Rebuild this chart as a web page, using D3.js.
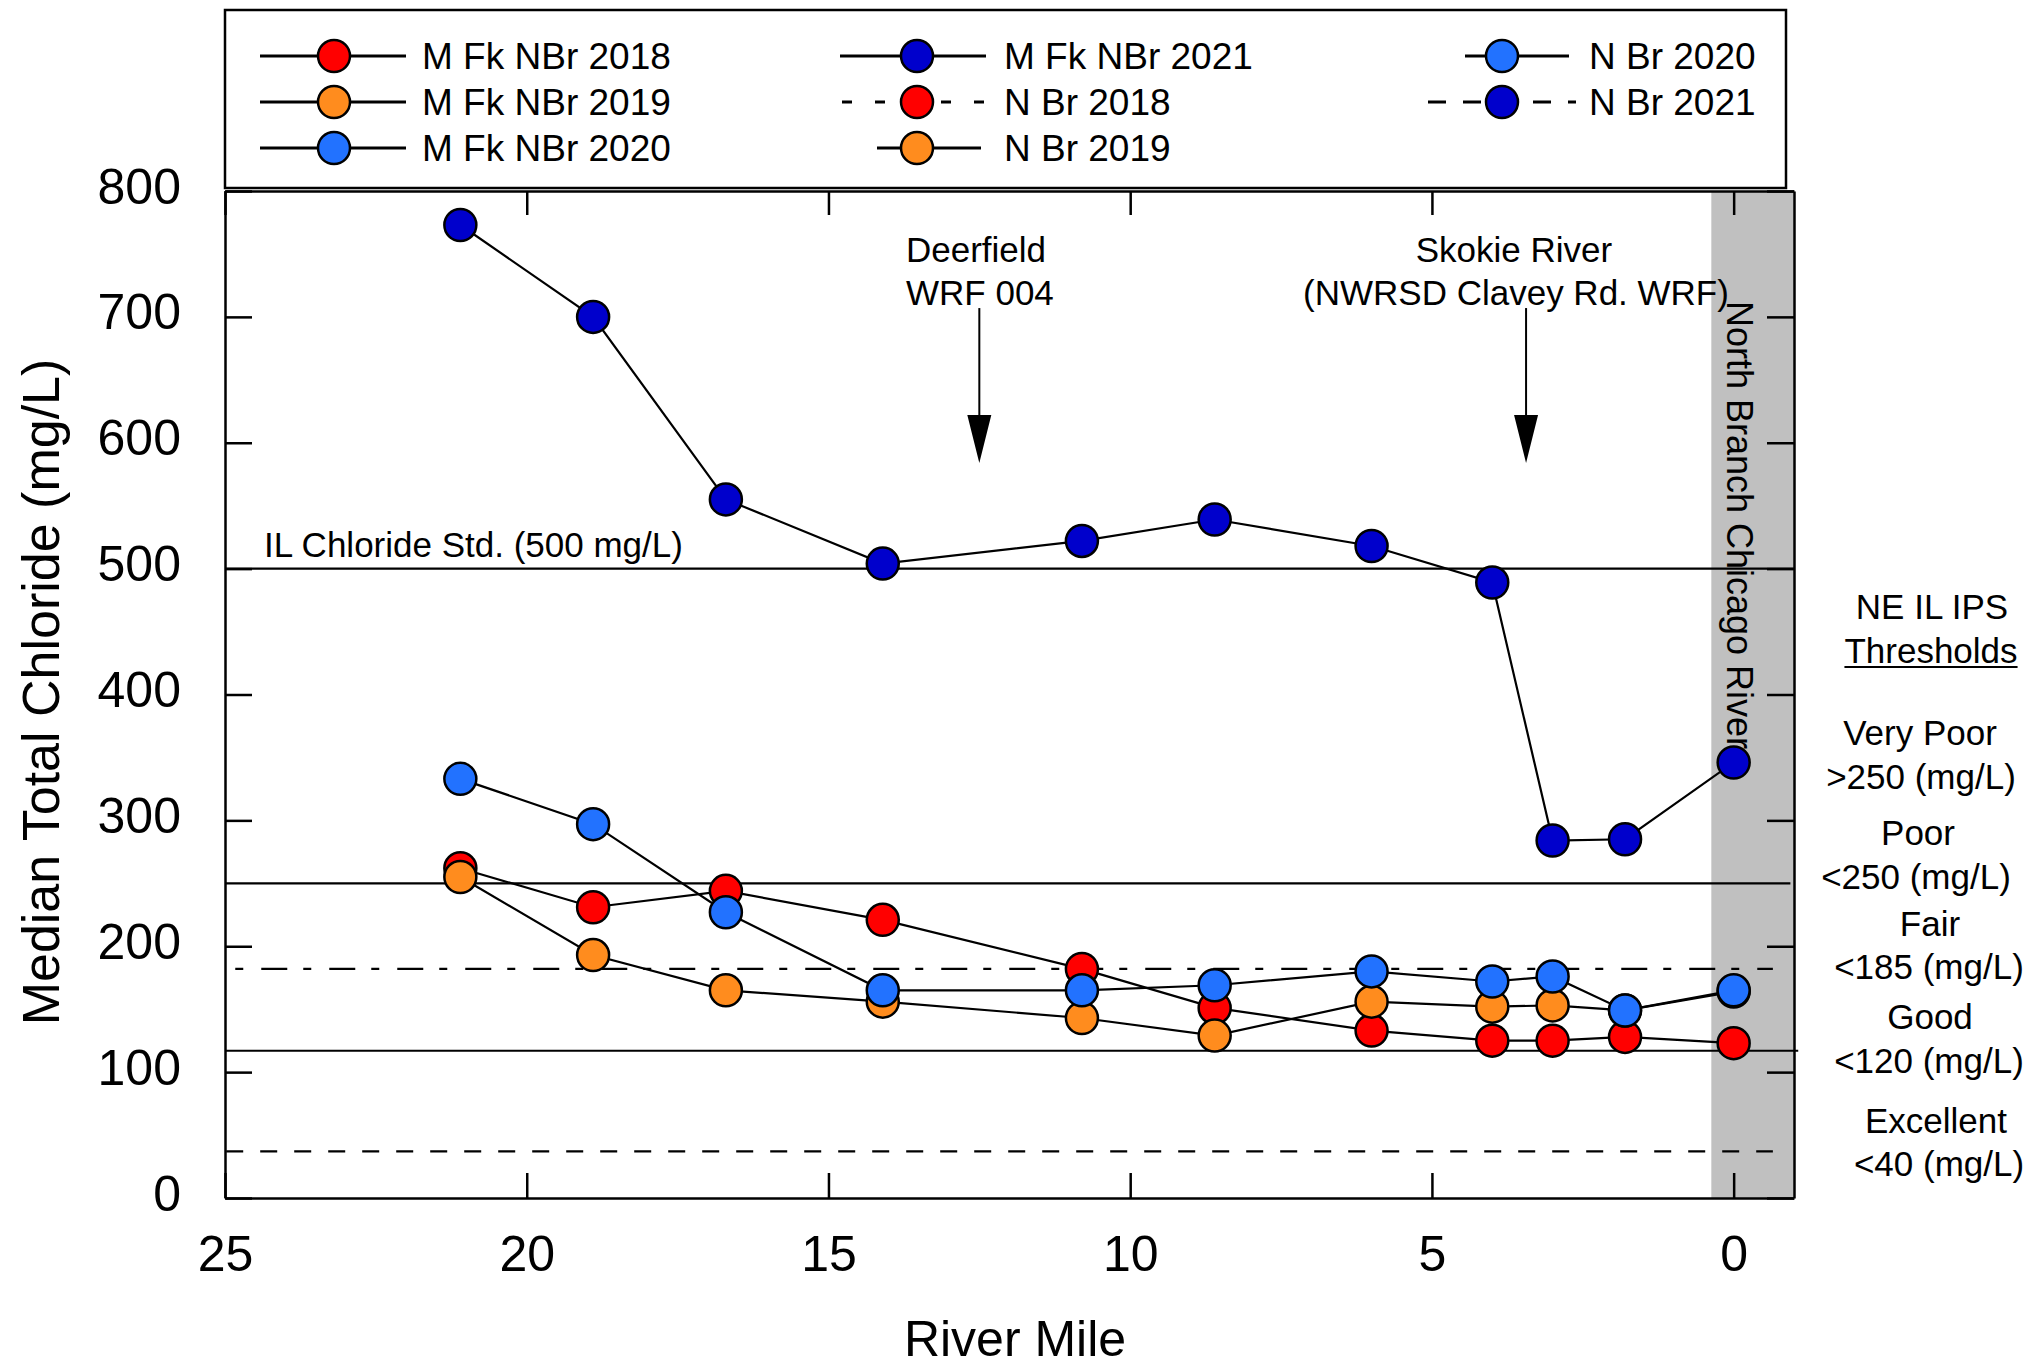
<!DOCTYPE html>
<html>
<head>
<meta charset="utf-8">
<script src="https://cdn.jsdelivr.net/npm/d3@7"></script>
<style>
  body { margin: 0; background: #fff; }
  text { font-family: "Liberation Sans", Arial, sans-serif; fill: #000; }
</style>
</head>
<body>
<script>
"use strict";

// river miles of the sampling stations
var mfkMiles = [21.1, 18.9, 16.7, 14.1, 10.8, 8.6, 6.0, 4.0, 3.0, 1.8];
var nbrMiles = [0];

// median total chloride (mg/L)
var mfk2018 = [262, 231, 244, 221, 182, 151, 133, 125, 125, 128];
var mfk2019 = [255, 193, 165, 156, 143, 129, 156, 152, 153, 149];
var mfk2020 = [333, 297, 227, 165, 165, 169, 180, 172, 176, 149];
var mfk2021 = [773, 700, 555, 504, 522, 539, 518, 489, 284, 285];
var nbr2018 = [123];
var nbr2019 = [164];
var nbr2020 = [165];
var nbr2021 = [346];

var xTicks = [25, 20, 15, 10, 5, 0];
var yTicks = [0, 100, 200, 300, 400, 500, 600, 700, 800];

// NE IL IPS thresholds and the chloride standard as drawn
var stdLine = 500;
var ipsLines = [250, 182, 117, 37];

// outfall annotations (river mile)
var deerfieldMile = 12.5;
var skokieMile = 3.44;

var colors = {
  y2018: "#ff0000",
  y2019: "#ff8c1e",
  y2020: "#2272ff",
  y2021: "#0000cc"
};

var width = 2041;
var height = 1368;

var svg = d3.select("body").append("svg")
  .attr("width", width)
  .attr("height", height);

var x = d3.scaleLinear().domain([25, -1]).range([225, 1794]);
var y = d3.scaleLinear().domain([0, 800]).range([1198, 191]);

// gray band for the North Branch Chicago River
svg.append("rect")
  .attr("x", x(0.37))
  .attr("y", y(800))
  .attr("width", x(-1) - x(0.37))
  .attr("height", y(0) - y(800))
  .attr("fill", "#c0c0c0");

// reference lines
var refs = [
  {v: stdLine, x1: 25, x2: -1, dash: null},
  {v: ipsLines[0], x1: 25, x2: -0.94, dash: null},
  {v: ipsLines[1], x1: 24.83, x2: -0.65, dash: "8,18,26,16"},
  {v: ipsLines[2], x1: 25, x2: -1.07, dash: null},
  {v: ipsLines[3], x1: 24.98, x2: -0.65, dash: "17,17"}
];

svg.append("g").selectAll("line")
  .data(refs)
  .enter().append("line")
  .attr("x1", function(d) { return x(d.x1); })
  .attr("x2", function(d) { return x(d.x2); })
  .attr("y1", function(d) { return y(d.v); })
  .attr("y2", function(d) { return y(d.v); })
  .attr("stroke", "#000")
  .attr("stroke-width", 2.2)
  .attr("stroke-dasharray", function(d) { return d.dash; });

// axes
var yLeft = d3.axisLeft(y).tickValues(yTicks).tickSizeInner(-27).tickSizeOuter(0).tickPadding(44);
var yRight = d3.axisRight(y).tickValues(yTicks).tickSizeInner(-27).tickSizeOuter(0).tickFormat("");
var xBottom = d3.axisBottom(x).tickValues(xTicks).tickSizeInner(-25).tickSizeOuter(0).tickPadding(37);
var xTop = d3.axisTop(x).tickValues(xTicks).tickSizeInner(-24).tickSizeOuter(0).tickFormat("");

var gl = svg.append("g").attr("transform", "translate(" + x(25) + ",0)").call(yLeft);
var gr = svg.append("g").attr("transform", "translate(" + x(-1) + ",0)").call(yRight);
var gb = svg.append("g").attr("transform", "translate(0," + y(0) + ")").call(xBottom);
var gt = svg.append("g").attr("transform", "translate(0," + y(800) + ")").call(xTop);

[gl, gr, gb, gt].forEach(function(g) {
  g.selectAll("path").attr("stroke", "#000").attr("stroke-width", 2.5);
  g.selectAll("line").attr("stroke", "#000").attr("stroke-width", 2.5);
  g.selectAll("text")
    .attr("font-family", "Liberation Sans, Arial, sans-serif")
    .attr("font-size", 50)
    .attr("fill", "#000");
});
gl.selectAll("text").attr("dy", "0.24em");

// axis titles
svg.append("text")
  .attr("transform", "translate(59,692) rotate(-90)")
  .attr("text-anchor", "middle")
  .attr("font-size", 52)
  .text("Median Total Chloride (mg/L)");

svg.append("text")
  .attr("x", 1015)
  .attr("y", 1356)
  .attr("text-anchor", "middle")
  .attr("font-size", 50)
  .text("River Mile");

// series: one path per year through both reaches
var years = [
  {key: "y2018", mfk: mfk2018, nbr: nbr2018},
  {key: "y2019", mfk: mfk2019, nbr: nbr2019},
  {key: "y2020", mfk: mfk2020, nbr: nbr2020},
  {key: "y2021", mfk: mfk2021, nbr: nbr2021}
];

var line = d3.line()
  .x(function(d) { return x(d[0]); })
  .y(function(d) { return y(d[1]); });

var pts = function(miles, vals) {
  return miles.map(function(m, i) { return [m, vals[i]]; });
};

svg.append("g").selectAll("path")
  .data(years)
  .enter().append("path")
  .attr("d", function(d) { return line(pts(mfkMiles, d.mfk).concat(pts(nbrMiles, d.nbr))); })
  .attr("fill", "none")
  .attr("stroke", "#000")
  .attr("stroke-width", 2.2);

// markers, drawn series by series
var series = [];
years.forEach(function(d) { series.push({key: d.key, p: pts(mfkMiles, d.mfk)}); });
years.forEach(function(d) { series.push({key: d.key, p: pts(nbrMiles, d.nbr)}); });

series.forEach(function(s) {
  svg.append("g").selectAll("circle")
    .data(s.p)
    .enter().append("circle")
    .attr("cx", function(d) { return x(d[0]); })
    .attr("cy", function(d) { return y(d[1]); })
    .attr("r", 16)
    .attr("fill", colors[s.key])
    .attr("stroke", "#000")
    .attr("stroke-width", 2.5);
});

// legend
svg.append("rect")
  .attr("x", 225)
  .attr("y", 10)
  .attr("width", 1561)
  .attr("height", 178)
  .attr("fill", "none")
  .attr("stroke", "#000")
  .attr("stroke-width", 2.5);

var legendItems = [
  {name: "M Fk NBr 2018", key: "y2018", x1: 260, x2: 406, mx: 334, tx: 422, row: 0, dash: null},
  {name: "M Fk NBr 2019", key: "y2019", x1: 260, x2: 406, mx: 334, tx: 422, row: 1, dash: null},
  {name: "M Fk NBr 2020", key: "y2020", x1: 260, x2: 406, mx: 334, tx: 422, row: 2, dash: null},
  {name: "M Fk NBr 2021", key: "y2021", x1: 840, x2: 986, mx: 917, tx: 1004, row: 0, dash: null},
  {name: "N Br 2018", key: "y2018", x1: 842, x2: 992, mx: 917, tx: 1004, row: 1, dash: "10,23"},
  {name: "N Br 2019", key: "y2019", x1: 877, x2: 981, mx: 917, tx: 1004, row: 2, dash: null},
  {name: "N Br 2020", key: "y2020", x1: 1465, x2: 1569, mx: 1502, tx: 1589, row: 0, dash: null},
  {name: "N Br 2021", key: "y2021", x1: 1428, x2: 1576, mx: 1502, tx: 1589, row: 1, dash: "18,17"}
];
var rowY = [56, 102, 148];

var lg = svg.append("g").selectAll("g")
  .data(legendItems)
  .enter().append("g");

lg.append("line")
  .attr("x1", function(d) { return d.x1; })
  .attr("x2", function(d) { return d.x2; })
  .attr("y1", function(d) { return rowY[d.row]; })
  .attr("y2", function(d) { return rowY[d.row]; })
  .attr("stroke", "#000")
  .attr("stroke-width", 3)
  .attr("stroke-dasharray", function(d) { return d.dash; });

lg.append("circle")
  .attr("cx", function(d) { return d.mx; })
  .attr("cy", function(d) { return rowY[d.row]; })
  .attr("r", 16)
  .attr("fill", function(d) { return colors[d.key]; })
  .attr("stroke", "#000")
  .attr("stroke-width", 2.5);

lg.append("text")
  .attr("x", function(d) { return d.tx; })
  .attr("y", function(d) { return rowY[d.row] + 13; })
  .attr("font-size", 37)
  .text(function(d) { return d.name; });

// annotations
var arrow = function(mile) {
  var ax = x(mile);
  svg.append("line")
    .attr("x1", ax).attr("x2", ax)
    .attr("y1", y(707)).attr("y2", y(622))
    .attr("stroke", "#000")
    .attr("stroke-width", 2);
  svg.append("path")
    .attr("d", "M" + (ax - 12) + "," + y(622) + "L" + (ax + 12) + "," + y(622) + "L" + ax + "," + y(584) + "Z")
    .attr("fill", "#000");
};
arrow(deerfieldMile);
arrow(skokieMile);

var label = function(tx, ty, str, anchor) {
  return svg.append("text")
    .attr("x", tx)
    .attr("y", ty)
    .attr("text-anchor", anchor || "start")
    .attr("font-size", 35)
    .text(str);
};

label(906, 262, "Deerfield");
label(906, 305, "WRF 004");
label(1514, 262, "Skokie River", "middle");
label(1516, 305, "(NWRSD Clavey Rd. WRF)", "middle");
label(264, 557, "IL Chloride Std. (500 mg/L)");

svg.append("text")
  .attr("transform", "translate(1727,525) rotate(90)")
  .attr("text-anchor", "middle")
  .attr("font-size", 36)
  .text("North Branch Chicago River");

// threshold labels on the right
label(1932, 619, "NE IL IPS", "middle");
var th = label(1931, 663, "Thresholds", "middle");
var bb = th.node().getBBox();
svg.append("line")
  .attr("x1", bb.x).attr("x2", bb.x + bb.width)
  .attr("y1", 667).attr("y2", 667)
  .attr("stroke", "#000").attr("stroke-width", 2);

label(1920, 745, "Very Poor", "middle");
label(1921, 789, ">250 (mg/L)", "middle");
label(1918, 845, "Poor", "middle");
label(1916, 889, "<250 (mg/L)", "middle");
label(1930, 936, "Fair", "middle");
label(1929, 979, "<185 (mg/L)", "middle");
label(1930, 1029, "Good", "middle");
label(1929, 1073, "<120 (mg/L)", "middle");
label(1936, 1133, "Excellent", "middle");
label(1939, 1176, "<40 (mg/L)", "middle");
</script>
</body>
</html>
